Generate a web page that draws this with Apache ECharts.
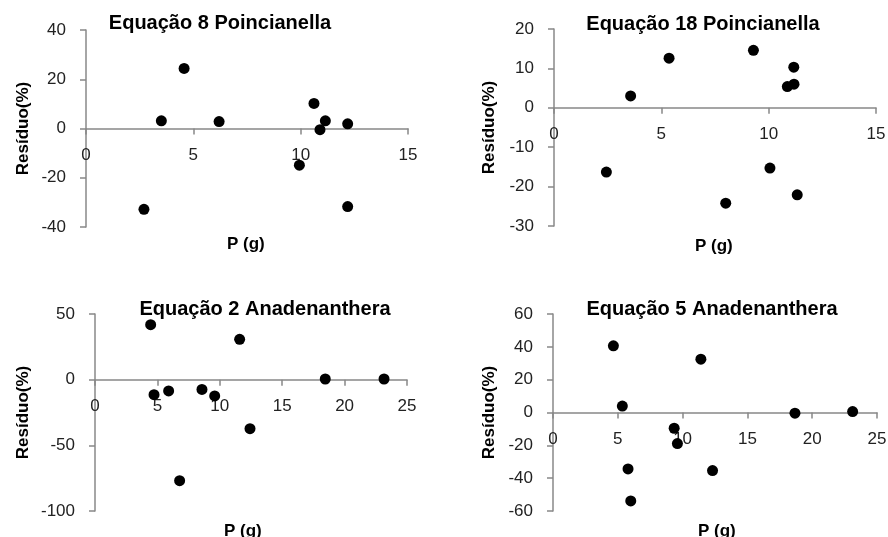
<!DOCTYPE html>
<html>
<head>
<meta charset="utf-8">
<style>
  html, body { margin: 0; padding: 0; background: #fff; }
  #chart { width: 888px; height: 537px; }
</style>
<script src="https://cdn.jsdelivr.net/npm/echarts@6/dist/echarts.min.js"></script>
</head>
<body>
<div id="chart"></div>
<script>
// Residual plots: P (g) vs Resíduo(%) for four fitted equations
const titles = ['Equação 8 Poincianella', 'Equação 18 Poincianella', 'Equação 2 Anadenanthera', 'Equação 5 Anadenanthera'];
const xAxisName = 'P (g)';
const yAxisName = 'Resíduo(%)';

const eq8P =   [2.70, 3.51, 4.57, 6.20, 9.94, 10.62, 10.90, 11.15, 12.19, 12.19];
const eq8Res = [-32.8, 3.1, 24.4, 2.8, -14.9, 10.2, -0.5, 3.1, 1.9, -31.7];

const eq18P =   [2.44, 3.57, 5.36, 8.00, 9.29, 10.06, 10.87, 11.18, 11.17, 11.33];
const eq18Res = [-16.3, 3.0, 12.6, -24.2, 14.6, -15.3, 5.4, 6.0, 10.3, -22.1];

const eq2P =   [4.46, 4.73, 5.90, 6.78, 8.57, 9.59, 11.59, 12.42, 18.45, 23.16];
const eq2Res = [41.9, -11.4, -8.6, -76.9, -7.4, -12.4, 30.7, -37.3, 0.5, 0.5];

const eq5P =   [4.66, 5.35, 5.79, 6.00, 9.35, 9.60, 11.41, 12.31, 18.67, 23.12];
const eq5Res = [40.6, 3.9, -34.4, -53.9, -9.6, -18.9, 32.5, -35.4, -0.4, 0.6];

// axis ranges: [xMin, xMax, xStep, yMin, yMax, yStep]
const ranges = [
  [0, 15, 5, -40, 40, 20],
  [0, 15, 5, -30, 20, 10],
  [0, 25, 5, -100, 50, 50],
  [0, 25, 5, -60, 60, 20]
];

const seriesX = [eq8P, eq18P, eq2P, eq5P];
const seriesY = [eq8Res, eq18Res, eq2Res, eq5Res];

// panel layout (pixels)
const grids = [
  { left: 86,  top: 30,  width: 322, height: 197 },
  { left: 554, top: 29,  width: 322, height: 197 },
  { left: 95,  top: 314, width: 312, height: 197 },
  { left: 553, top: 314, width: 324, height: 197 }
];
const titlePos = [[215, 8], [698, 9], [260, 294], [707, 294]];
const xNamePos = [[247, 246], [715, 248], [244, 533], [718, 533]];
const yNameGap = [54, 56, 63, 55];

const axisGray = '#888888';
const tickFont = 'Liberation Sans, Arial, sans-serif';
const boldFont = 'Liberation Sans Narrow, Arial Narrow, Liberation Sans, sans-serif';

const option = {
  backgroundColor: '#ffffff',
  animation: false,
  title: titles.map((t, i) => ({
    text: t,
    left: titlePos[i][0],
    top: titlePos[i][1],
    textAlign: 'center',
    textStyle: { fontFamily: boldFont, fontWeight: 'bold', fontSize: 20, color: '#000' }
  })),
  grid: grids.map(g => Object.assign({ containLabel: false, outerBoundsMode: 'none' }, g)),
  xAxis: ranges.map((r, i) => ({
    type: 'value',
    gridIndex: i,
    position: 'bottom',
    min: r[0], max: r[1], interval: r[2],
    axisLine: { onZero: false, lineStyle: { color: axisGray, width: 1.5 } },
    axisTick: { show: true, length: 6, lineStyle: { color: axisGray, width: 1.5 } },
    axisLabel: { margin: 18, fontFamily: tickFont, fontSize: 17, color: '#222', showMinLabel: true, showMaxLabel: true },
    splitLine: { show: false }
  })),
  yAxis: ranges.map((r, i) => ({
    type: 'value',
    gridIndex: i,
    min: r[3], max: r[4], interval: r[5],
    axisLine: { show: true, onZero: false, lineStyle: { color: axisGray, width: 1.5 } },
    axisTick: { show: true, length: 6, lineStyle: { color: axisGray, width: 1.5 } },
    axisLabel: { margin: 20, fontFamily: tickFont, fontSize: 17, color: '#222' },
    splitLine: { show: false },
    name: yAxisName,
    nameLocation: 'middle',
    nameRotate: 90,
    nameGap: yNameGap[i],
    nameTextStyle: { fontFamily: boldFont, fontWeight: 'bold', fontSize: 17, color: '#000' }
  })),
  graphic: xNamePos.map(p => ({
    type: 'text',
    left: p[0] - 20,
    top: p[1] - 10,
    style: { text: xAxisName, fontFamily: boldFont, fontWeight: 'bold', fontSize: 17, fill: '#000' }
  })),
  series: seriesX.map((xs, i) => ({
    type: 'scatter',
    xAxisIndex: i,
    yAxisIndex: i,
    symbol: 'circle',
    symbolSize: 11,
    itemStyle: { color: '#000', opacity: 1 },
    data: xs.map((x, k) => [x, seriesY[i][k]])
  }))
};

const chart = echarts.init(document.getElementById('chart'));
chart.setOption(option);

// lift each x axis (line, ticks and labels) up to the y = 0 level of its panel
const xOffsets = ranges.map((r, i) => {
  const zeroPx = chart.convertToPixel({ gridIndex: i }, [0, 0]);
  const bottomPx = chart.convertToPixel({ gridIndex: i }, [0, r[3]]);
  return zeroPx[1] - bottomPx[1];
});
chart.setOption({ xAxis: xOffsets.map(o => ({ offset: o })) });
</script>
</body>
</html>
